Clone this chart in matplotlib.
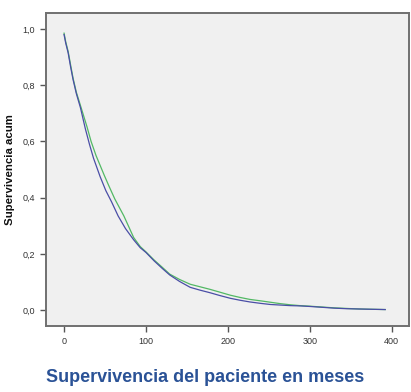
"""Kaplan-Meier style survival curves for two patient groups."""

import matplotlib

matplotlib.use("Agg")

import matplotlib.pyplot as plt

# Months and cumulative survival, group 1 (blue)
months_a = [0, 2, 5, 8, 11, 15, 20, 26, 31, 36, 44, 51, 58, 66, 75, 85, 93,
            100, 110, 120, 129, 141, 154, 166, 178, 190, 203, 215, 227, 240,
            252, 264, 276, 288, 300, 315, 330, 345, 360, 375, 392]
surv_a = [0.98, 0.95, 0.915, 0.865, 0.82, 0.77, 0.72, 0.645, 0.59, 0.54,
          0.475, 0.425, 0.385, 0.335, 0.29, 0.25, 0.222, 0.205, 0.175,
          0.148, 0.125, 0.102, 0.081, 0.071, 0.062, 0.052, 0.042, 0.035,
          0.029, 0.024, 0.020, 0.018, 0.016, 0.015, 0.013, 0.010, 0.007,
          0.005, 0.004, 0.003, 0.002]

# Months and cumulative survival, group 2 (green)
months_b = [0, 2, 5, 8, 11, 15, 20, 28, 33, 39, 49, 55, 62, 73, 85, 93,
            100, 110, 120, 129, 141, 154, 166, 178, 190, 203, 215, 227, 240,
            252, 264, 276, 288, 300, 315, 330, 345, 360, 375, 392]
surv_b = [0.985, 0.955, 0.92, 0.872, 0.825, 0.775, 0.728, 0.652, 0.6,
          0.55, 0.48, 0.44, 0.395, 0.335, 0.258, 0.226, 0.207, 0.178,
          0.152, 0.128, 0.109, 0.092, 0.083, 0.074, 0.064, 0.053, 0.045,
          0.038, 0.033, 0.028, 0.023, 0.019, 0.016, 0.014, 0.011, 0.008,
          0.006, 0.004, 0.003, 0.002]

x_ticks = [0, 100, 200, 300, 400]
y_ticks = [0.0, 0.2, 0.4, 0.6, 0.8, 1.0]
y_tick_labels = ["0,0", "0,2", "0,4", "0,6", "0,8", "1,0"]

plt.rcParams["font.family"] = ["Liberation Sans", "DejaVu Sans"]

fig = plt.figure(figsize=(4.11, 3.92), dpi=100)
ax = fig.add_axes([0.112, 0.168, 0.883, 0.799])
ax.set_facecolor("#f0f0f0")

ax.plot(months_b, surv_b, color="#52b864", lw=0.9)
ax.plot(months_a, surv_a, color="#4a4ea6", lw=0.9)

ax.set_xlim(-22, 421)
ax.set_ylim(-0.057, 1.057)
ax.set_xticks(x_ticks)
ax.set_yticks(y_ticks)
ax.set_yticklabels(y_tick_labels)
ax.tick_params(axis="both", labelsize=6.5, colors="#333333", length=4.5,
               width=1.0, direction="out")
ax.tick_params(axis="both", color="#555555")

for spine in ax.spines.values():
    spine.set_color("#707070")
    spine.set_linewidth(1.4)

ax.set_ylabel("Supervivencia acum", fontsize=8.2, fontweight="bold",
              color="#111111")
ax.yaxis.set_label_coords(-0.085, 0.5)

fig.text(205 / 411, 1 - 378 / 392, "Supervivencia del paciente en meses",
         ha="center", va="center", fontsize=13, fontweight="bold",
         color="#2a5296")

fig.savefig("out.png", dpi=100)
